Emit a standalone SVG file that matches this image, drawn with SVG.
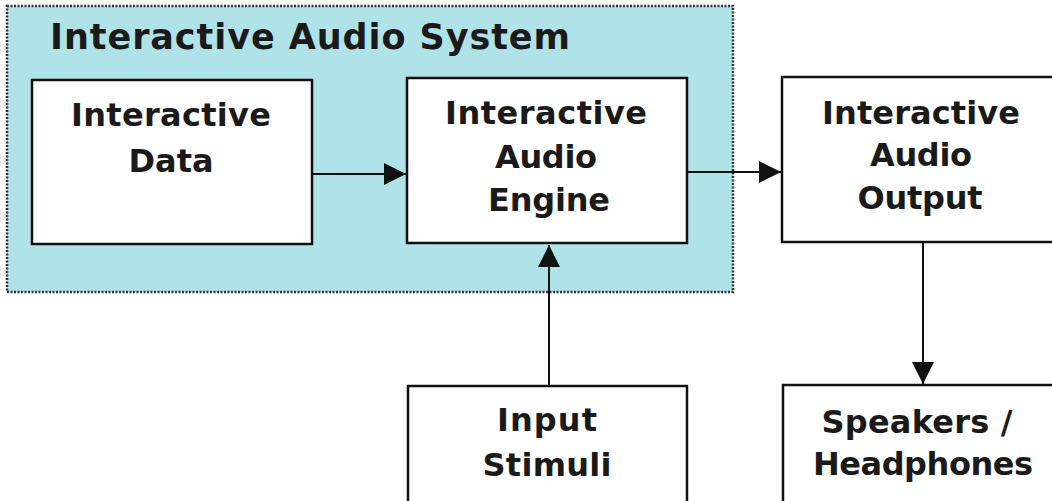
<svg xmlns="http://www.w3.org/2000/svg" width="1052" height="501" viewBox="0 0 1052 501">
  <style>
    .box { fill: #ffffff; stroke: #111111; stroke-width: 2.5; }
    .lbl { font-family: "DejaVu Sans", Verdana, sans-serif; font-weight: bold; font-size: 32px; fill: #1a1a1a; text-anchor: middle; }
    .title { font-family: "DejaVu Sans", Verdana, sans-serif; font-weight: bold; font-size: 35px; fill: #1a1a1a; }
    .edge { stroke: #111111; stroke-width: 2; fill: none; }
  </style>
  <defs>
    <marker id="head" viewBox="0 0 22 22" refX="22" refY="11" markerWidth="22" markerHeight="22" markerUnits="userSpaceOnUse" orient="auto">
      <path d="M0,0 L22,11 L0,22 Z" fill="#111111"/>
    </marker>
  </defs>

  <rect width="1052" height="501" fill="#ffffff"/>

  <!-- system boundary -->
  <g id="system">
    <rect x="7" y="6" width="726" height="286" fill="#b0e3e8" stroke="#333333" stroke-width="2.5" stroke-dasharray="2 1.5"/>
    <text class="title" x="50" y="49" textLength="520" lengthAdjust="spacing">Interactive Audio System</text>
  </g>

  <!-- connectors -->
  <g id="connectors">
    <line class="edge" x1="312" y1="174" x2="406" y2="174" marker-end="url(#head)"/>
    <line class="edge" x1="687" y1="172" x2="781" y2="172" marker-end="url(#head)"/>
    <line class="edge" x1="549" y1="386" x2="549" y2="245" marker-end="url(#head)"/>
    <line class="edge" x1="923" y1="242" x2="923" y2="384" marker-end="url(#head)"/>
  </g>

  <g id="interactive-data">
    <rect class="box" x="32" y="80" width="280" height="164"/>
    <text class="lbl" x="171" y="126" textLength="200" lengthAdjust="spacing">Interactive</text>
    <text class="lbl" x="171" y="172" textLength="85" lengthAdjust="spacing">Data</text>
  </g>

  <g id="audio-engine">
    <rect class="box" x="407" y="78" width="280" height="165"/>
    <text class="lbl" x="546" y="124" textLength="202" lengthAdjust="spacing">Interactive</text>
    <text class="lbl" x="546" y="168" textLength="102" lengthAdjust="spacing">Audio</text>
    <text class="lbl" x="549" y="211" textLength="122" lengthAdjust="spacing">Engine</text>
  </g>

  <g id="audio-output">
    <rect class="box" x="782" y="77" width="290" height="165"/>
    <text class="lbl" x="921" y="124" textLength="198" lengthAdjust="spacing">Interactive</text>
    <text class="lbl" x="921" y="166" textLength="102" lengthAdjust="spacing">Audio</text>
    <text class="lbl" x="920" y="209" textLength="125" lengthAdjust="spacing">Output</text>
  </g>

  <g id="input-stimuli">
    <rect class="box" x="408" y="386" width="279" height="130"/>
    <text class="lbl" x="547" y="431" textLength="100" lengthAdjust="spacing">Input</text>
    <text class="lbl" x="547" y="476" textLength="129" lengthAdjust="spacing">Stimuli</text>
  </g>

  <g id="speakers">
    <rect class="box" x="783" y="385" width="290" height="130"/>
    <text class="lbl" x="917" y="433" textLength="191" lengthAdjust="spacing">Speakers /</text>
    <text class="lbl" x="923" y="475" textLength="220" lengthAdjust="spacing">Headphones</text>
  </g>
</svg>
